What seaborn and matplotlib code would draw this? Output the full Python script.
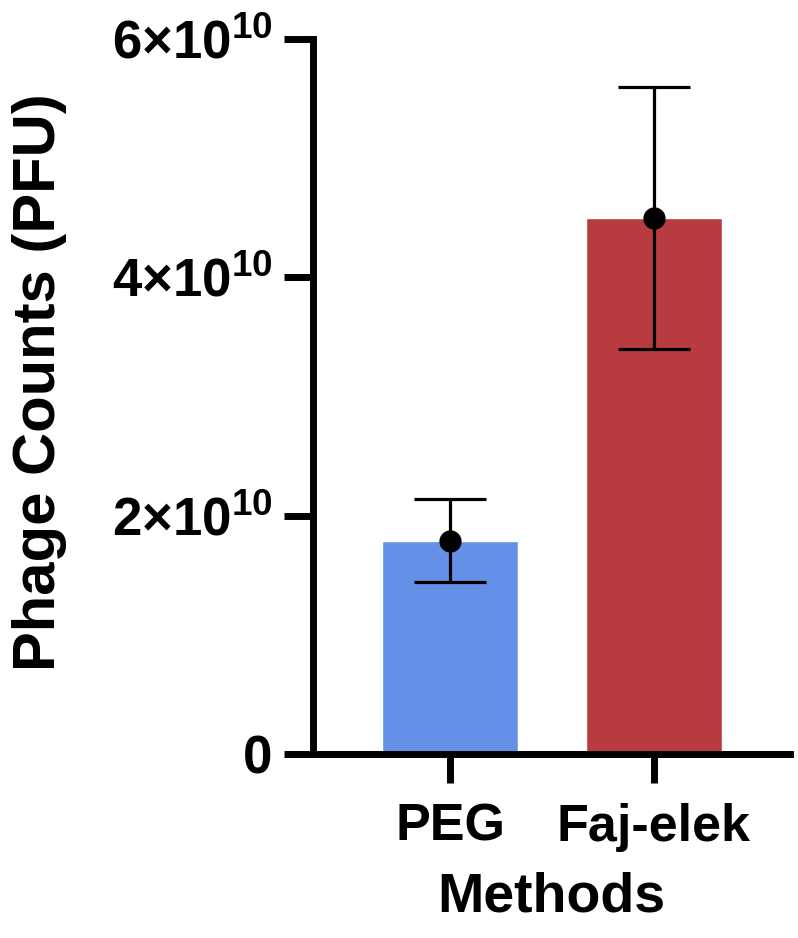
import matplotlib
matplotlib.use("Agg")
import matplotlib.pyplot as plt
import seaborn as sns
import pandas as pd

methods = ["PEG", "Faj-elek"]
means = [1.79e10, 4.50e10]
errors = [0.35e10, 1.10e10]
colors = ["#6490E8", "#B83C3F"]
yticks = [0, 2e10, 4e10, 6e10]
yticklabels = ["0", r"$2{\times}10^{10}$", r"$4{\times}10^{10}$", r"$6{\times}10^{10}$"]

sns.set_style("white")
plt.rcParams["font.family"] = ["Liberation Sans", "DejaVu Sans"]
plt.rcParams["font.weight"] = "bold"
plt.rcParams["text.color"] = "black"
plt.rcParams["axes.labelcolor"] = "black"
plt.rcParams["xtick.color"] = "black"
plt.rcParams["ytick.color"] = "black"
plt.rcParams["mathtext.fontset"] = "custom"
plt.rcParams["mathtext.rm"] = "Liberation Sans:bold"
plt.rcParams["mathtext.it"] = "Liberation Sans:bold"
plt.rcParams["mathtext.bf"] = "Liberation Sans:bold"
plt.rcParams["mathtext.default"] = "rm"

df = pd.DataFrame({"Methods": methods, "Count": means})

fig = plt.figure(figsize=(7.98, 9.38), dpi=100)
ax = fig.add_axes([313/798, 1-754/938, (790-313)/798, (754-39)/938])

sns.barplot(data=df, x="Methods", y="Count", hue="Methods", palette=colors,
            width=0.667, legend=False, ax=ax, saturation=1)

xpos = list(range(len(methods)))
ax.errorbar(xpos, means, yerr=errors, fmt="none", ecolor="black",
            elinewidth=2.3, capsize=26, capthick=2.3, zorder=5)
ax.plot(xpos, means, "o", color="black", markersize=15, zorder=6)

ax.set_xlim(-0.672, 1.667)
ax.set_ylim(0, 6e10)
ax.set_yticks(yticks)
ax.set_yticklabels(yticklabels)

for s in ["top", "right"]:
    ax.spines[s].set_visible(False)
for s in ["left", "bottom"]:
    ax.spines[s].set_linewidth(5)
    ax.spines[s].set_color("black")
    ax.spines[s].set_capstyle("projecting")

ax.tick_params(axis="both", which="major", length=21, width=5, color="black",
               labelcolor="black", labelsize=38, direction="out",
               bottom=True, left=True)
ax.tick_params(axis="y", pad=8)
ax.tick_params(axis="x", pad=14, labelsize=37.5)
for lbl in ax.get_xticklabels() + ax.get_yticklabels():
    lbl.set_fontweight("bold")

ax.set_xlabel("Methods", fontsize=40, fontweight="bold", labelpad=14, color="black")
ax.set_ylabel("Phage Counts (PFU)", fontsize=43, fontweight="bold", color="black")
ax.yaxis.set_label_coords((67 - 313) / (790 - 313), (754 - 382) / (754 - 39),
                          transform=ax.transAxes)

fig.savefig("out.png", dpi=100)
